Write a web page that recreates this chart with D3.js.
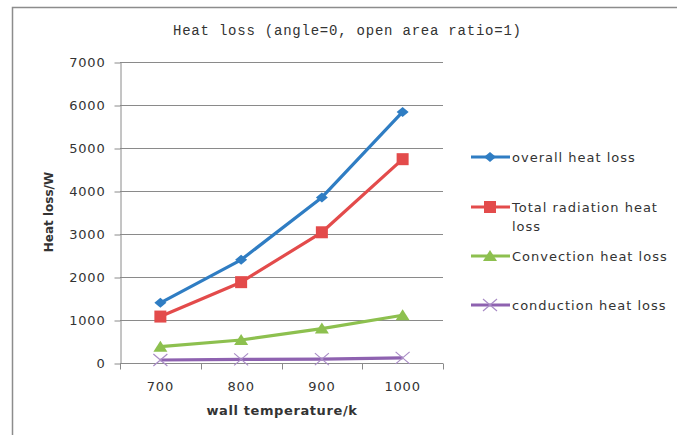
<!DOCTYPE html>
<html>
<head>
<meta charset="utf-8">
<script src="https://cdn.jsdelivr.net/npm/d3@7"></script>
<style>
  body { margin: 0; background: #fff; }
  svg text { fill: #333; }
</style>
</head>
<body>
<script>
// data
var temps = ['700', '800', '900', '1000'];
var overall = [1400, 2400, 3850, 5840];
var radiation = [1080, 1880, 3040, 4740];
var convection = [380, 535, 800, 1110];
var conduction = [70, 85, 90, 120];
var yTicks = [0, 1000, 2000, 3000, 4000, 5000, 6000, 7000];
var seriesNames = ['overall heat loss', 'Total radiation heat loss', 'Convection heat loss', 'conduction heat loss'];

var width = 677, height = 435;
var plot = { left: 120, right: 443, top: 62, bottom: 363 };
var labelFont = 'Verdana, "DejaVu Sans", sans-serif';

var series = [
  { name: seriesNames[0], values: overall, color: '#2F7DC3', symbol: 'diamond' },
  { name: seriesNames[1], values: radiation, color: '#E34B4B', symbol: 'square' },
  { name: seriesNames[2], values: convection, color: '#8DC04F', symbol: 'triangle' },
  { name: seriesNames[3], values: conduction, color: '#8E62B0', symbol: 'cross' }
];

var svg = d3.select('body').append('svg')
    .attr('width', width)
    .attr('height', height);

// outer frame (only top and left edges are inside the picture)
svg.append('path')
    .attr('d', 'M12.5,' + height + 'V7.5H' + width)
    .attr('fill', 'none')
    .attr('stroke', '#8c8c8c')
    .attr('stroke-width', 1.5);

var x = d3.scaleBand().domain(temps).range([plot.left, plot.right]);
var y = d3.scaleLinear().domain([0, 7000]).range([plot.bottom, plot.top]);

// gridlines
svg.append('g')
    .selectAll('line')
    .data(yTicks.slice(1))
    .enter().append('line')
    .attr('x1', plot.left).attr('x2', plot.right)
    .attr('y1', function (d) { return Math.round(y(d)) + 0.5; })
    .attr('y2', function (d) { return Math.round(y(d)) + 0.5; })
    .attr('stroke', '#8a8a8a')
    .attr('stroke-width', 1);

// y axis
var yAxis = d3.axisLeft(y).tickValues(yTicks).tickFormat(d3.format('d'))
    .tickSizeInner(6).tickSizeOuter(0).tickPadding(9);
var gy = svg.append('g')
    .attr('transform', 'translate(' + (plot.left + 0.5) + ',0.5)')
    .call(yAxis);
gy.select('.domain').attr('stroke', '#8a8a8a');
gy.selectAll('.tick line').attr('stroke', '#8a8a8a');
gy.selectAll('.tick text')
    .style('font-family', labelFont)
    .style('font-size', '13px')
    .style('letter-spacing', '0.8px')
    .attr('fill', '#333');

// x axis: category ticks between categories
var xAxisLine = svg.append('g').attr('transform', 'translate(0,' + (plot.bottom + 0.5) + ')');
xAxisLine.append('line')
    .attr('x1', plot.left).attr('x2', plot.right)
    .attr('stroke', '#8a8a8a');
var bounds = temps.map(function (t) { return x(t); }).concat([plot.right]);
xAxisLine.selectAll('line.tk')
    .data(bounds)
    .enter().append('line')
    .attr('class', 'tk')
    .attr('x1', function (d) { return Math.round(d) + 0.5; })
    .attr('x2', function (d) { return Math.round(d) + 0.5; })
    .attr('y1', 0).attr('y2', 6)
    .attr('stroke', '#8a8a8a');
xAxisLine.selectAll('text')
    .data(temps)
    .enter().append('text')
    .attr('x', function (d) { return x(d) + x.bandwidth() / 2; })
    .attr('y', 27)
    .attr('text-anchor', 'middle')
    .style('font-family', labelFont)
    .style('font-size', '13px')
    .style('letter-spacing', '0.8px')
    .text(function (d) { return d; });

// axis titles
svg.append('text')
    .attr('x', 282).attr('y', 415)
    .attr('text-anchor', 'middle')
    .style('font-family', labelFont)
    .style('font-size', '13px')
    .style('letter-spacing', '0.6px')
    .style('font-weight', 'bold')
    .text('wall temperature/k');
svg.append('text')
    .attr('transform', 'translate(53,' + 212 + ') rotate(-90)')
    .attr('text-anchor', 'middle')
    .style('font-family', labelFont)
    .style('font-size', '12px')
    .style('font-weight', 'bold')
    .text('Heat loss/W');

// title
svg.append('text')
    .attr('x', 173).attr('y', 35)
    .attr('textLength', 348)
    .attr('lengthAdjust', 'spacing')
    .style('font-family', '"Liberation Mono", "DejaVu Sans Mono", monospace')
    .style('font-size', '14px')
    .attr('fill', '#111')
    .text('Heat loss (angle=0, open area ratio=1)');

function cx(i) { return x(temps[i]) + x.bandwidth() / 2; }

function drawMarker(g, symbol, color, px, py) {
  if (symbol === 'diamond') {
    g.append('path').attr('d', 'M0,-5L6,0L0,5L-6,0Z')
      .attr('transform', 'translate(' + px + ',' + py + ')').attr('fill', color);
  } else if (symbol === 'square') {
    g.append('rect').attr('x', px - 6).attr('y', py - 6).attr('width', 12).attr('height', 12)
      .attr('fill', color);
  } else if (symbol === 'triangle') {
    g.append('path').attr('d', 'M0,-6L7,5L-7,5Z')
      .attr('transform', 'translate(' + px + ',' + py + ')').attr('fill', color);
  } else {
    g.append('path').attr('d', 'M-7,-6L7,6M-7,6L7,-6')
      .attr('transform', 'translate(' + px + ',' + py + ')')
      .attr('stroke', '#A98CC6').attr('stroke-width', 1.2).attr('fill', 'none');
  }
}

var line = d3.line()
    .x(function (d, i) { return cx(i); })
    .y(function (d) { return y(d); });

series.forEach(function (s) {
  var g = svg.append('g');
  g.append('path')
    .datum(s.values)
    .attr('d', line)
    .attr('fill', 'none')
    .attr('stroke', s.color)
    .attr('stroke-width', 3.2)
    .attr('stroke-linejoin', 'round');
  s.values.forEach(function (v, i) {
    drawMarker(g, s.symbol, s.color, cx(i), y(v));
  });
});

// legend
var legendRows = [157, 207, 256, 305];
var legend = svg.append('g');
series.forEach(function (s, i) {
  var ly = legendRows[i];
  var g = legend.append('g');
  g.append('line')
    .attr('x1', 471).attr('x2', 510).attr('y1', ly).attr('y2', ly)
    .attr('stroke', s.color).attr('stroke-width', 3.2);
  drawMarker(g, s.symbol, s.color, 490, ly);
  var words = s.name === 'Total radiation heat loss' ? ['Total radiation heat', 'loss'] : [s.name];
  words.forEach(function (w, j) {
    g.append('text')
      .attr('x', 512).attr('y', ly + 5 + j * 19)
      .style('font-family', labelFont)
      .style('font-size', '13px')
      .style('letter-spacing', '1px')
      .text(w);
  });
});
</script>
</body>
</html>
